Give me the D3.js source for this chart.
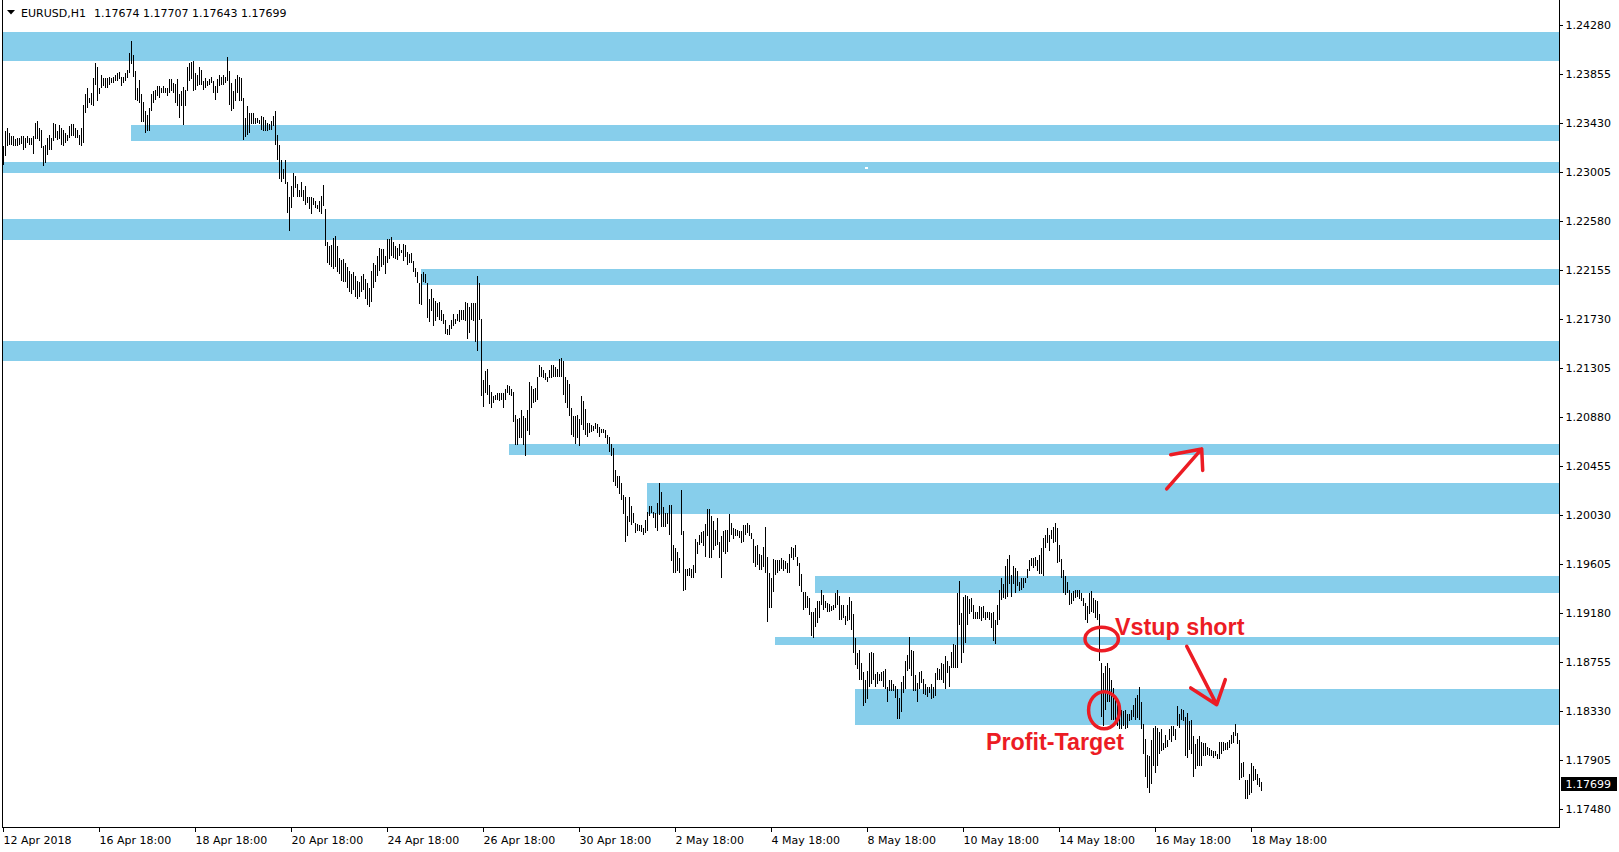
<!DOCTYPE html>
<html><head><meta charset="utf-8">
<script src="https://cdn.jsdelivr.net/npm/d3@7"></script>
<style>
html,body{margin:0;padding:0;background:#fff;overflow:hidden}
svg{display:block;font-family:"DejaVu Sans",sans-serif}
</style></head><body>
<svg id="c" width="1619" height="852"></svg>
<script>
// ---------- DATA ----------
const symbol = "EURUSD,H1";
const lastBar = [1.17674, 1.17707, 1.17643, 1.17699]; // O H L C
const timeLabels = ["12 Apr 2018","16 Apr 18:00","18 Apr 18:00","20 Apr 18:00","24 Apr 18:00","26 Apr 18:00","30 Apr 18:00","2 May 18:00","4 May 18:00","8 May 18:00","10 May 18:00","14 May 18:00","16 May 18:00","18 May 18:00"];
const barsPerLabel = 48;
const priceTicks = [1.17480,1.17905,1.18330,1.18755,1.19180,1.19605,1.20030,1.20455,1.20880,1.21305,1.21730,1.22155,1.22580,1.23005,1.23430,1.23855,1.24280];

const highs = [
1.2323,1.2336,1.2339,1.2334,1.2332,1.2332,1.2329,1.2330,1.2330,1.2332,
1.2332,1.2330,1.2332,1.2330,1.2330,1.2332,1.2343,1.2345,1.2339,1.2337,
1.2323,1.2324,1.2330,1.2333,1.2330,1.2343,1.2342,1.2336,1.2341,1.2339,
1.2337,1.2334,1.2333,1.2340,1.2342,1.2342,1.2339,1.2337,1.2333,1.2339,
1.2359,1.2368,1.2373,1.2365,1.2369,1.2382,1.2395,1.2392,1.2373,1.2385,
1.2382,1.2382,1.2382,1.2383,1.2382,1.2383,1.2385,1.2386,1.2387,1.2383,
1.2383,1.2386,1.2389,1.2404,1.2414,1.2402,1.2388,1.2373,1.2380,1.2368,
1.2361,1.2353,1.2350,1.2356,1.2368,1.2371,1.2372,1.2375,1.2375,1.2373,
1.2375,1.2373,1.2373,1.2381,1.2381,1.2378,1.2377,1.2381,1.2368,1.2371,
1.2374,1.2372,1.2392,1.2395,1.2396,1.2397,1.2386,1.2385,1.2392,1.2389,
1.2379,1.2382,1.2379,1.2381,1.2383,1.2379,1.2375,1.2381,1.2385,1.2383,
1.2385,1.2383,1.2400,1.2388,1.2378,1.2371,1.2381,1.2385,1.2383,1.2382,
1.2365,1.2347,1.2358,1.2352,1.2352,1.2352,1.2347,1.2347,1.2346,1.2349,
1.2348,1.2346,1.2343,1.2342,1.2345,1.2349,1.2353,1.2333,1.2324,1.2311,
1.2303,1.2311,1.2292,1.2279,1.2288,1.2300,1.2297,1.2290,1.2285,1.2292,
1.2285,1.2288,1.2279,1.2279,1.2279,1.2278,1.2275,1.2272,1.2275,1.2280,
1.2289,1.2268,1.2240,1.2236,1.2237,1.2243,1.2245,1.2236,1.2226,1.2224,
1.2225,1.2222,1.2218,1.2215,1.2212,1.2214,1.2210,1.2206,1.2205,1.2210,
1.2212,1.2208,1.2204,1.2200,1.2215,1.2222,1.2220,1.2228,1.2235,1.2234,
1.2234,1.2228,1.2242,1.2242,1.2244,1.2240,1.2236,1.2235,1.2238,1.2233,
1.2238,1.2237,1.2231,1.2229,1.2230,1.2223,1.2217,1.2214,1.2204,1.2212,
1.2214,1.2212,1.2204,1.2190,1.2199,1.2191,1.2189,1.2187,1.2188,1.2181,
1.2177,1.2172,1.2164,1.2168,1.2172,1.2177,1.2173,1.2177,1.2181,1.2181,
1.2181,1.2188,1.2187,1.2183,1.2187,1.2187,1.2187,1.2210,1.2204,1.2173,
1.2120,1.2128,1.2130,1.2116,1.2110,1.2106,1.2107,1.2109,1.2109,1.2109,
1.2109,1.2112,1.2116,1.2115,1.2112,1.2110,1.2090,1.2086,1.2087,1.2094,
1.2089,1.2087,1.2094,1.2118,1.2115,1.2112,1.2113,1.2123,1.2133,1.2131,
1.2129,1.2126,1.2123,1.2129,1.2133,1.2133,1.2131,1.2130,1.2138,1.2139,
1.2137,1.2123,1.2120,1.2117,1.2096,1.2089,1.2089,1.2090,1.2086,1.2106,
1.2102,1.2095,1.2083,1.2083,1.2081,1.2080,1.2083,1.2082,1.2079,1.2078,
1.2078,1.2077,1.2072,1.2071,1.2065,1.2061,1.2042,1.2037,1.2037,1.2031,
1.2020,1.2019,1.2002,1.2019,1.2011,1.2005,1.1996,1.1995,1.1994,1.1994,
1.1992,1.1999,1.2006,1.2011,1.2011,1.2006,1.2005,1.2013,1.2031,1.2023,
1.2010,1.2005,1.2005,1.2012,1.2012,1.1977,1.1974,1.1971,1.1966,1.2025,
1.1989,1.1956,1.1956,1.1957,1.1956,1.1960,1.1982,1.1980,1.1986,1.1988,
1.1989,1.1995,1.2008,1.2008,1.2002,1.1998,1.1990,1.2000,1.1980,1.1985,
1.1989,1.1990,1.1990,1.2004,1.1996,1.1992,1.1991,1.1990,1.1989,1.1989,
1.1994,1.1994,1.1996,1.1994,1.1987,1.1982,1.1976,1.1977,1.1969,1.1968,
1.1975,1.1993,1.1967,1.1953,1.1948,1.1965,1.1964,1.1964,1.1964,1.1966,
1.1964,1.1963,1.1961,1.1969,1.1975,1.1974,1.1977,1.1967,1.1961,1.1952,
1.1936,1.1936,1.1933,1.1931,1.1919,1.1919,1.1922,1.1928,1.1928,1.1938,
1.1934,1.1928,1.1927,1.1926,1.1924,1.1925,1.1935,1.1938,1.1933,1.1925,
1.1925,1.1915,1.1925,1.1932,1.1928,1.1917,1.1896,1.1883,1.1886,1.1875,
1.1867,1.1860,1.1868,1.1883,1.1884,1.1883,1.1865,1.1867,1.1865,1.1867,
1.1868,1.1869,1.1854,1.1860,1.1860,1.1856,1.1855,1.1852,1.1844,1.1858,
1.1863,1.1876,1.1882,1.1897,1.1886,1.1885,1.1864,1.1857,1.1867,1.1868,
1.1861,1.1856,1.1854,1.1854,1.1856,1.1854,1.1866,1.1870,1.1869,1.1875,
1.1874,1.1881,1.1876,1.1872,1.1884,1.1891,1.1890,1.1935,1.1946,1.1918,
1.1932,1.1934,1.1933,1.1930,1.1931,1.1925,1.1919,1.1919,1.1924,1.1923,
1.1924,1.1919,1.1919,1.1919,1.1918,1.1919,1.1912,1.1925,1.1938,1.1948,
1.1943,1.1959,1.1965,1.1968,1.1951,1.1959,1.1957,1.1954,1.1945,1.1948,
1.1948,1.1948,1.1956,1.1964,1.1966,1.1966,1.1967,1.1964,1.1968,1.1974,
1.1983,1.1986,1.1992,1.1986,1.1990,1.1993,1.1996,1.1992,1.1977,1.1965,
1.1955,1.1950,1.1945,1.1938,1.1935,1.1937,1.1938,1.1938,1.1938,1.1935,
1.1931,1.1927,1.1924,1.1935,1.1937,1.1931,1.1929,1.1928,1.1917,1.1875,
1.1866,1.1872,1.1875,1.1870,1.1860,1.1853,1.1846,1.1843,1.1830,1.1834,
1.1833,1.1834,1.1830,1.1830,1.1834,1.1838,1.1844,1.1847,1.1854,1.1841,
1.1822,1.1809,1.1795,1.1794,1.1808,1.1818,1.1820,1.1818,1.1815,1.1817,
1.1805,1.1812,1.1808,1.1817,1.1820,1.1820,1.1817,1.1837,1.1830,1.1835,
1.1834,1.1828,1.1831,1.1824,1.1825,1.1811,1.1804,1.1809,1.1811,1.1806,
1.1805,1.1805,1.1802,1.1801,1.1799,1.1798,1.1798,1.1796,1.1806,1.1806,
1.1806,1.1805,1.1806,1.1808,1.1812,1.1815,1.1822,1.1814,1.1808,1.1788,
1.1789,1.1773,1.1773,1.1778,1.1788,1.1785,1.1783,1.1778,1.1775,1.1771];

const lows = [
1.2307,1.2314,1.2323,1.2324,1.2324,1.2323,1.2323,1.2323,1.2324,1.2325,
1.2320,1.2321,1.2326,1.2324,1.2324,1.2316,1.2329,1.2329,1.2327,1.2321,
1.2306,1.2308,1.2315,1.2320,1.2320,1.2327,1.2330,1.2328,1.2329,1.2324,
1.2323,1.2326,1.2327,1.2330,1.2332,1.2332,1.2330,1.2330,1.2324,1.2323,
1.2326,1.2352,1.2356,1.2360,1.2359,1.2358,1.2376,1.2362,1.2368,1.2373,
1.2375,1.2373,1.2373,1.2376,1.2378,1.2378,1.2379,1.2379,1.2381,1.2375,
1.2378,1.2379,1.2382,1.2386,1.2394,1.2383,1.2363,1.2362,1.2360,1.2344,
1.2344,1.2334,1.2336,1.2336,1.2353,1.2360,1.2363,1.2366,1.2365,1.2369,
1.2369,1.2369,1.2366,1.2369,1.2371,1.2369,1.2360,1.2358,1.2347,1.2358,
1.2341,1.2358,1.2371,1.2379,1.2381,1.2371,1.2372,1.2375,1.2376,1.2376,
1.2372,1.2373,1.2375,1.2376,1.2378,1.2369,1.2363,1.2369,1.2375,1.2376,
1.2376,1.2378,1.2379,1.2359,1.2353,1.2355,1.2362,1.2369,1.2362,1.2362,
1.2328,1.2331,1.2333,1.2334,1.2342,1.2342,1.2342,1.2343,1.2342,1.2337,
1.2336,1.2336,1.2336,1.2337,1.2337,1.2340,1.2324,1.2311,1.2294,1.2292,
1.2294,1.2290,1.2265,1.2249,1.2269,1.2279,1.2287,1.2279,1.2279,1.2279,
1.2275,1.2272,1.2274,1.2268,1.2264,1.2272,1.2269,1.2268,1.2266,1.2264,
1.2271,1.2236,1.2222,1.2220,1.2218,1.2216,1.2218,1.2214,1.2212,1.2206,
1.2205,1.2205,1.2200,1.2196,1.2195,1.2198,1.2192,1.2190,1.2192,1.2196,
1.2198,1.2190,1.2185,1.2183,1.2188,1.2200,1.2205,1.2210,1.2215,1.2218,
1.2220,1.2212,1.2222,1.2225,1.2228,1.2226,1.2225,1.2224,1.2228,1.2230,
1.2223,1.2227,1.2220,1.2222,1.2222,1.2214,1.2209,1.2204,1.2186,1.2185,
1.2205,1.2204,1.2174,1.2170,1.2180,1.2167,1.2171,1.2175,1.2172,1.2171,
1.2169,1.2160,1.2159,1.2159,1.2164,1.2167,1.2169,1.2171,1.2170,1.2172,
1.2172,1.2171,1.2156,1.2161,1.2172,1.2171,1.2153,1.2145,1.2172,1.2106,
1.2097,1.2109,1.2107,1.2099,1.2096,1.2100,1.2103,1.2103,1.2102,1.2103,
1.2096,1.2103,1.2109,1.2107,1.2106,1.2084,1.2064,1.2064,1.2070,1.2070,
1.2064,1.2054,1.2076,1.2072,1.2096,1.2100,1.2101,1.2103,1.2123,1.2123,
1.2122,1.2120,1.2118,1.2122,1.2122,1.2123,1.2123,1.2123,1.2123,1.2123,
1.2107,1.2100,1.2096,1.2089,1.2072,1.2071,1.2065,1.2070,1.2063,1.2081,
1.2077,1.2072,1.2071,1.2074,1.2075,1.2076,1.2078,1.2074,1.2071,1.2074,
1.2074,1.2070,1.2065,1.2058,1.2054,1.2032,1.2028,1.2026,1.2021,1.2016,
1.2004,1.1980,1.1985,1.1997,1.1994,1.1996,1.1987,1.1989,1.1989,1.1988,
1.1986,1.1987,1.1989,1.2002,1.2005,1.2000,1.1992,1.1989,1.2003,1.1993,
1.1993,1.1993,1.1995,1.1986,1.1963,1.1953,1.1953,1.1954,1.1953,1.1986,
1.1937,1.1938,1.1950,1.1950,1.1948,1.1948,1.1953,1.1969,1.1977,1.1979,
1.1976,1.1967,1.1985,1.1966,1.1966,1.1973,1.1976,1.1977,1.1966,1.1948,
1.1971,1.1969,1.1971,1.1980,1.1986,1.1982,1.1985,1.1985,1.1983,1.1979,
1.1980,1.1986,1.1987,1.1985,1.1982,1.1961,1.1958,1.1960,1.1955,1.1955,
1.1958,1.1953,1.1910,1.1922,1.1922,1.1936,1.1951,1.1953,1.1954,1.1956,
1.1954,1.1956,1.1953,1.1953,1.1966,1.1964,1.1967,1.1959,1.1941,1.1936,
1.1921,1.1922,1.1922,1.1916,1.1898,1.1896,1.1906,1.1909,1.1914,1.1925,
1.1921,1.1922,1.1919,1.1919,1.1920,1.1921,1.1922,1.1925,1.1912,1.1912,
1.1914,1.1908,1.1911,1.1912,1.1903,1.1883,1.1873,1.1869,1.1860,1.1860,
1.1837,1.1840,1.1843,1.1854,1.1856,1.1860,1.1854,1.1856,1.1859,1.1859,
1.1854,1.1852,1.1841,1.1850,1.1850,1.1850,1.1844,1.1826,1.1826,1.1832,
1.1849,1.1852,1.1868,1.1869,1.1863,1.1850,1.1850,1.1841,1.1852,1.1857,
1.1848,1.1847,1.1845,1.1849,1.1843,1.1844,1.1846,1.1860,1.1860,1.1860,
1.1857,1.1852,1.1866,1.1854,1.1870,1.1870,1.1870,1.1870,1.1908,1.1875,
1.1883,1.1892,1.1908,1.1917,1.1919,1.1913,1.1913,1.1913,1.1913,1.1911,
1.1914,1.1912,1.1914,1.1912,1.1905,1.1894,1.1891,1.1908,1.1912,1.1929,
1.1931,1.1930,1.1932,1.1943,1.1932,1.1943,1.1935,1.1941,1.1937,1.1938,
1.1940,1.1944,1.1948,1.1954,1.1959,1.1957,1.1959,1.1954,1.1952,1.1952,
1.1950,1.1974,1.1979,1.1972,1.1982,1.1979,1.1980,1.1961,1.1962,1.1948,
1.1935,1.1934,1.1935,1.1925,1.1926,1.1928,1.1931,1.1932,1.1930,1.1928,
1.1924,1.1912,1.1909,1.1917,1.1919,1.1918,1.1914,1.1912,1.1876,1.1828,
1.1820,1.1834,1.1841,1.1841,1.1825,1.1825,1.1822,1.1820,1.1817,1.1817,
1.1820,1.1817,1.1818,1.1824,1.1825,1.1828,1.1825,1.1827,1.1825,1.1817,
1.1796,1.1776,1.1766,1.1762,1.1770,1.1785,1.1779,1.1785,1.1796,1.1798,
1.1799,1.1801,1.1802,1.1808,1.1806,1.1811,1.1808,1.1820,1.1818,1.1825,
1.1824,1.1794,1.1792,1.1799,1.1796,1.1776,1.1783,1.1785,1.1785,1.1785,
1.1794,1.1794,1.1795,1.1794,1.1794,1.1792,1.1794,1.1791,1.1791,1.1796,
1.1798,1.1799,1.1799,1.1801,1.1804,1.1805,1.1811,1.1804,1.1773,1.1775,
1.1776,1.1757,1.1757,1.1760,1.1762,1.1772,1.1773,1.1769,1.1767,1.1764];

// support / resistance zones: start bar index, upper price, lower price
const zoneStart = [0, 64, 0, 0, 209, 0, 253, 322, 406, 386, 426];
const zoneTop   = [1.24222,1.23416,1.23092,1.22600,1.22164,1.21536,1.20649,1.20310,1.19504,1.18975,1.18524];
const zoneBottom= [1.23971,1.23271,1.22993,1.22418,1.22028,1.21369,1.20547,1.20042,1.19356,1.18905,1.18205];

// annotations (bar index, price)
const ellipseCenters = [[549.1, 1.18955], [550.3, 1.18337]];
const ellipseRadii = [[16.7, 11.7], [15.5, 18.5]];
const noteTexts = ["Vstup short", "Profit-Target"];
const notePos = [[555.75, 1.18992], [491.25, 1.17995]];
const arrowDown = [[591.6, 1.18891], [606.6, 1.18385], [593.6, 1.18530], [610.9, 1.18602]]; // tail, tip, arm1, arm2
const arrowUp   = [[581.6, 1.20256], [599.1, 1.20603], [583.6, 1.20553], [599.6, 1.20417]];
const speck = [430.75, 1.23051];

// ---------- CHART ----------
const svg = d3.select("#c");
const W = 1619, H = 852;
const left = 2.5, right = 1559.5, bottom = 827.5;
const N = highs.length;
const x = d3.scaleLinear().domain([0, N - 1]).range([3.5, 3.5 + 2 * (N - 1)]);
const y = d3.scaleLinear().domain([priceTicks[0], priceTicks[priceTicks.length - 1]]).range([809, 25]);
const RED = "#ec1c24";
const BLUE = "#87ceeb";

svg.append("rect").attr("width", W).attr("height", H).attr("fill", "#fff");

// zones
const zg = svg.append("g").attr("shape-rendering", "crispEdges");
zg.selectAll("rect").data(zoneTop).join("rect")
  .attr("x", (d, i) => Math.max(3, x(zoneStart[i]) - 0.5))
  .attr("y", d => Math.round(y(d)))
  .attr("width", (d, i) => 1559 - Math.max(3, x(zoneStart[i]) - 0.5))
  .attr("height", (d, i) => Math.round(y(zoneBottom[i])) - Math.round(y(d)))
  .attr("fill", BLUE);

svg.append("rect").attr("x", Math.round(x(speck[0]))).attr("y", Math.round(y(speck[1])))
  .attr("width", 3).attr("height", 2).attr("fill", "#fff");

// bars
const bg = svg.append("g").attr("shape-rendering", "crispEdges");
bg.selectAll("rect").data(highs).join("rect")
  .attr("x", (d, i) => x(i) - 0.5)
  .attr("y", d => Math.round(y(d)))
  .attr("width", 1)
  .attr("height", (d, i) => Math.max(1, Math.round(y(lows[i])) - Math.round(y(d))))
  .attr("fill", "#000");

// frame
const fg = svg.append("g").attr("stroke", "#000").attr("stroke-width", 1).attr("shape-rendering", "crispEdges");
fg.append("line").attr("x1", left).attr("x2", left).attr("y1", 0).attr("y2", bottom);
fg.append("line").attr("x1", right).attr("x2", right).attr("y1", 0).attr("y2", bottom);
fg.append("line").attr("x1", left).attr("x2", right).attr("y1", bottom).attr("y2", bottom);

// price axis
const ya = svg.append("g").attr("transform", `translate(${right},0)`)
  .call(d3.axisRight(y).tickValues(priceTicks).tickSize(3).tickSizeOuter(0).tickFormat(d3.format(".5f")));
ya.select(".domain").remove();
ya.selectAll("line").attr("shape-rendering", "crispEdges");
ya.selectAll("text").attr("x", 6).attr("fill", "#000").style("font-size", "11px").style("font-family", "DejaVu Sans");

// time axis
const tickIdx = timeLabels.map((d, i) => i * barsPerLabel);
const xa = svg.append("g").attr("transform", `translate(0,${bottom})`)
  .call(d3.axisBottom(x).tickValues(tickIdx).tickSize(4).tickSizeOuter(0).offset(0).tickFormat((d, i) => timeLabels[i]));
xa.select(".domain").remove();
xa.selectAll("line").attr("shape-rendering", "crispEdges");
xa.selectAll("text").attr("text-anchor", "start").attr("x", 0).attr("y", 16).attr("dy", 0)
  .attr("fill", "#000").style("font-size", "11px").style("font-family", "DejaVu Sans");

// last price label
const lp = lastBar[3];
svg.append("rect").attr("x", 1561).attr("y", Math.round(y(lp)) - 7).attr("width", 56).attr("height", 14).attr("fill", "#000");
svg.append("text").attr("x", 1565.5).attr("y", y(lp)).attr("dy", "0.35em").attr("fill", "#fff")
  .style("font-size", "11px").text(d3.format(".5f")(lp));

// title
svg.append("path").attr("d", "M7,10 L15,10 L11,14.5 Z").attr("fill", "#000");
svg.append("text").attr("x", 21).attr("y", 16.5).style("font-size", "11px").attr("fill", "#000").text(symbol);
svg.append("text").attr("x", 94).attr("y", 16.5).style("font-size", "11px").attr("fill", "#000")
  .text(lastBar.map(d3.format(".5f")).join(" "));

// annotations
const ag = svg.append("g");
ag.selectAll("ellipse").data(ellipseCenters).join("ellipse")
  .attr("cx", d => x(d[0])).attr("cy", d => y(d[1]))
  .attr("rx", (d, i) => ellipseRadii[i][0]).attr("ry", (d, i) => ellipseRadii[i][1])
  .attr("fill", "none").attr("stroke", RED).attr("stroke-width", 3.5);
ag.selectAll("text").data(noteTexts).join("text")
  .attr("x", (d, i) => x(notePos[i][0])).attr("y", (d, i) => y(notePos[i][1]))
  .attr("fill", RED).style("font-family", "'Liberation Sans', Arial, sans-serif")
  .style("font-weight", "bold").style("font-size", "23.3px").text(d => d);
function arrow(a) {
  const p = a.map(d => [x(d[0]), y(d[1])]);
  return `M${p[0]}L${p[1]}M${p[2]}L${p[1]}L${p[3]}`;
}
[arrowDown, arrowUp].forEach(a => ag.append("path").attr("d", arrow(a)).attr("fill", "none")
  .attr("stroke", RED).attr("stroke-width", 3.5).attr("stroke-linecap", "round").attr("stroke-linejoin", "round"));
</script>
</body></html>
